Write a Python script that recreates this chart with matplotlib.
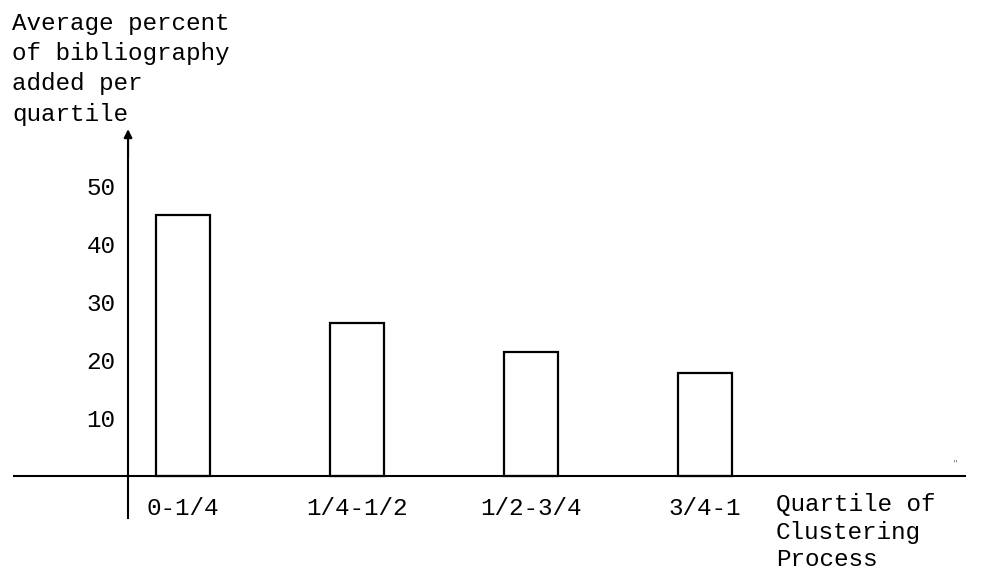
import matplotlib.pyplot as plt

# data
quartiles = ['0-1/4', '1/4-1/2', '1/2-3/4', '3/4-1']
percent_added = [45.0, 26.4, 21.4, 17.8]
y_ticks = [10, 20, 30, 40, 50]
y_title = 'Average percent\nof bibliography\nadded per\nquartile'
x_title = 'Quartile of\nClustering\nProcess'

plt.rcParams['font.family'] = ['Liberation Mono', 'DejaVu Sans Mono']
FS = 17.5

fig = plt.figure(figsize=(9.83, 5.76), dpi=100)
ax = fig.add_axes([0, 0, 1, 1])

# pixel-ish layout: 174 px per category, 5.8 px per percent
ax.set_xlim(-0.052, 5.598)
ax.set_ylim(-17.24, 82.07)

x = list(range(1, len(quartiles) + 1))
ax.bar(x, percent_added, width=0.305, fill=False, edgecolor='black', linewidth=1.6)

x_axis = 0.684
for s in ['top', 'right']:
    ax.spines[s].set_visible(False)
ax.spines['left'].set_position(('data', x_axis))
ax.spines['left'].set_bounds(-7.2, 58)
ax.spines['bottom'].set_position(('data', 0))
ax.spines['bottom'].set_bounds(0.029, 5.494)
for s in ['left', 'bottom']:
    ax.spines[s].set_linewidth(1.5)

ax.annotate('', xy=(x_axis, 59.8), xytext=(x_axis, 55),
            arrowprops=dict(arrowstyle='-|>', color='black', lw=1.5,
                            mutation_scale=12, shrinkA=0, shrinkB=0))

ax.set_yticks(y_ticks)
ax.set_yticklabels([str(t) for t in y_ticks], fontsize=FS)
ax.set_xticks(x)
ax.set_xticklabels(quartiles, fontsize=FS)
ax.tick_params(axis='y', length=0, pad=9)
ax.tick_params(axis='x', length=0, pad=15)

fig.text(12 / 983, 1 - 12 / 576, y_title, fontsize=FS, va='top', ha='left',
         linespacing=1.4)
ax.text(4.408, -3.0, x_title, fontsize=FS, va='top', ha='left', linespacing=1.25)
ax.text(5.437, 1.9, '"', fontsize=6, color='#666666', ha='center')

fig.savefig('out.png', dpi=100)
